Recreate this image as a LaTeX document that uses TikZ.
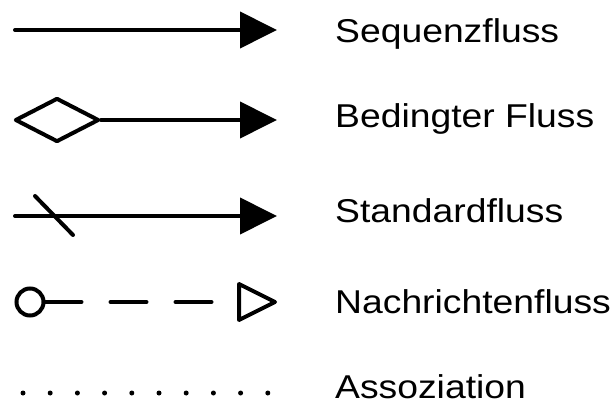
\documentclass[tikz,border=0pt]{standalone}
\usepackage{fontspec}
\setmainfont{Liberation Sans}
\newfontfamily\lblfont[FakeStretch=1.13]{Liberation Sans}
\usepackage{tikz}
\usetikzlibrary{positioning,shapes.geometric,arrows.meta,calc}

\begin{document}
\begin{tikzpicture}[x=1pt, y=1pt]
\tikzset{
  flow/.style={line width=4pt, line cap=round, line join=round, black},
  seqtip/.style={-{Triangle[length=37pt, width=36pt]}},
  gate/.style={diamond, draw, line width=4pt, line join=round, inner sep=0pt,
    minimum width=84pt, minimum height=44pt},
  port/.style={circle, draw, line width=4pt, inner sep=0pt, minimum size=27pt},
  lbl/.style={anchor=base west, font=\lblfont\fontsize{33}{38}\selectfont, inner sep=0pt}
}
\useasboundingbox (0,0) rectangle (613,410);

% sequence flow
\coordinate (s1) at (15,380);
\coordinate (e1) at (277,380);
\draw[flow, seqtip] (s1) -- (e1);
\node[lbl] (t1) at (335,367) {Sequenzfluss};

% conditional flow
\node[gate] (g2) at (57,290) {};
\coordinate (e2) at (277,290);
\draw[flow, seqtip] (g2.east) -- (e2);
\node[lbl] (t2) at (335,282) {Bedingter Fluss};

% default flow
\coordinate (s3) at (15,194);
\coordinate (e3) at (277,194);
\draw[flow, seqtip] (s3) -- (e3);
\draw[flow] (35,214) -- (73,175);
\node[lbl] (t3) at (335,187) {Standardfluss};

% message flow: open head drawn by hand
\node[port] (p4) at (30,108) {};
\coordinate (h4) at (239,108);
\coordinate (e4) at (236,108);
\draw[flow, dash pattern=on 36pt off 29pt] (p4.east) -- (e4);
\draw[flow] (h4) -- ++(0,18) -- ++(36,-18) -- ++(-36,-18) -- cycle;
\node[lbl] (t4) at (335,97) {Nachrichtenfluss};

% association
\coordinate (s5) at (23,17);
\coordinate (e5) at (269,17);
\draw[line width=5pt, line cap=round, dash pattern=on 0pt off 27.2pt] (s5) -- (e5);
\node[lbl] (t5) at (335,12) {Assoziation};
\end{tikzpicture}
\end{document}
